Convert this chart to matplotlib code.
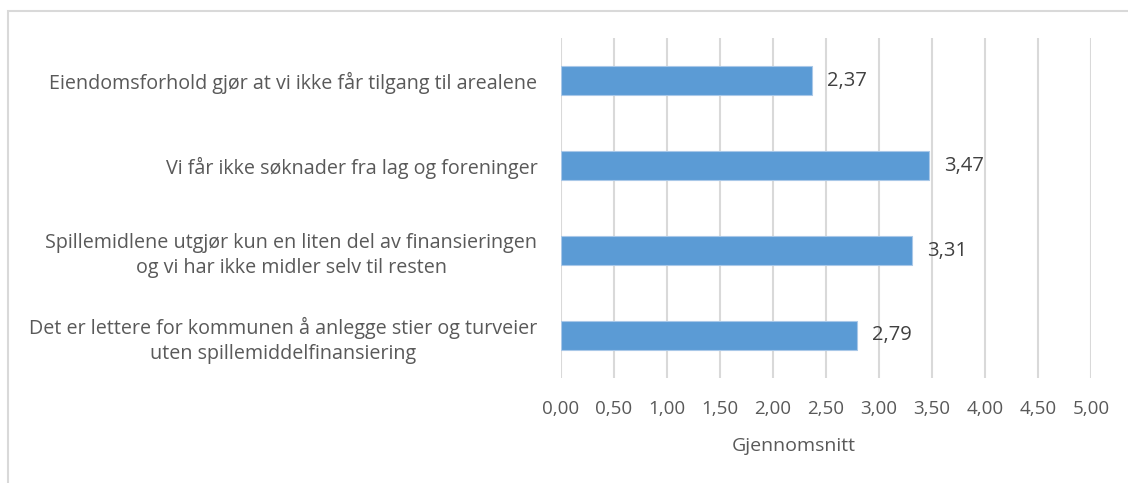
import matplotlib
matplotlib.use("Agg")

import matplotlib.pyplot as plt
import matplotlib.patches as patches
import numpy as np

# Gjennomsnittlig vurdering per påstand (øverst til nederst)
categories = [
    "Eiendomsforhold gjør at vi ikke får tilgang til arealene",
    "Vi får ikke søknader fra lag og foreninger",
    "Spillemidlene utgjør kun en liten del av finansieringen\nog vi har ikke midler selv til resten",
    "Det er lettere for kommunen å anlegge stier og turveier\nuten spillemiddelfinansiering",
]
values = [2.37, 3.47, 3.31, 2.79]
x_ticks = np.arange(0, 5.01, 0.5)

plt.rcParams["font.family"] = ["Open Sans", "DejaVu Sans"]
TEXT = "#595959"
GRID = "#d9d9d9"
BAR = "#5b9bd5"

fig = plt.figure(figsize=(11.28, 4.83), dpi=100)
ax = fig.add_axes([0.4973, 0.2174, 0.4699, 0.7039])

# ramme rundt diagramområdet
fig.patches.append(patches.Rectangle(
    (8 / 1128, -0.05), 1.2, 1 - 11 / 483 + 0.05,
    transform=fig.transFigure, fill=False, edgecolor=GRID, linewidth=1.5,
))

y = np.arange(len(categories))
ax.barh(y, values, height=0.35, color=BAR, edgecolor="#a9c8e8",
        linewidth=0.8, zorder=3)

for yi, v in zip(y, values):
    ax.text(v + 0.14, yi, f"{v:.2f}".replace(".", ","), va="center",
            ha="left", fontsize=14.5, color="#404040", zorder=4)

ax.set_ylim(len(categories) - 0.5, -0.5)
ax.set_xlim(0, 5)
ax.set_yticks(y)
ax.set_yticklabels(categories, fontsize=14.2, color=TEXT,
                   multialignment="center", linespacing=1.3)
ax.set_xticks(x_ticks)
ax.set_xticklabels([f"{t:.2f}".replace(".", ",") for t in x_ticks],
                   fontsize=13.5, color=TEXT)
ax.tick_params(axis="y", length=0, pad=17)
ax.tick_params(axis="x", length=0, pad=16)
ax.set_xlabel("Gjennomsnitt", fontsize=14, color=TEXT)
ax.xaxis.set_label_coords(0.44, -0.175)

ax.grid(axis="x", color=GRID, linewidth=1.5, zorder=0)
ax.set_axisbelow(True)
for side in ["top", "right", "bottom", "left"]:
    ax.spines[side].set_visible(False)

fig.savefig("out.png", dpi=100, facecolor="white")
plt.close(fig)
